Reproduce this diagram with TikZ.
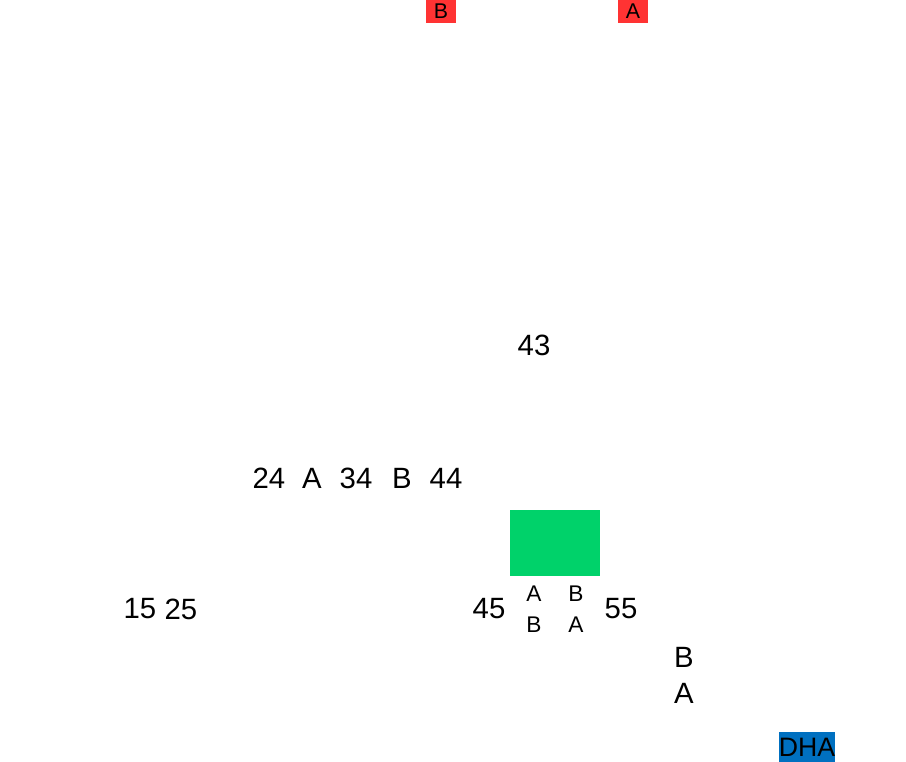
\documentclass[tikz,border=0pt]{standalone}
\usepackage{fontspec}
\setmainfont{Liberation Sans}
\usepackage{tikz}
\usetikzlibrary{positioning}
\definecolor{tagred}{RGB}{255,51,51}
\definecolor{tagblue}{RGB}{0,112,192}
\definecolor{padgreen}{RGB}{0,210,106}
\tikzset{
  lbl/.style={inner sep=0pt, font=\fontsize{22}{24}\selectfont},
  sm/.style={inner sep=0pt, font=\fontsize{17}{19}\selectfont},
  tag/.style={inner sep=0pt, minimum width=30*0.75pt, minimum height=23*0.75pt, font=\fontsize{16}{18}\selectfont}
}
\begin{document}
\begin{tikzpicture}[x=0.75pt, y=-0.75pt]
\useasboundingbox (0,0) rectangle (906,762);

% --- top tags ---
\node[tag, fill=tagred] (tagB) at (441,11.5) {B};
\node[tag, fill=tagred] (tagA) at (633,11.5) {A};

% --- upper labels ---
\node[lbl] (n43) at (534,345) {43};
\node[lbl] (n24) at (269,478) {24};
\node[lbl] (rA) at (312,478) {A};
\node[lbl] (n34) at (356,478) {34};
\node[lbl] (rB) at (402,478) {B};
\node[lbl] (n44) at (446,478) {44};

% --- green block ---
\fill[padgreen] (510,510) rectangle (600,576);

% --- lower row ---
\node[lbl] (n15) at (140,609) {15};
\node[lbl] (n25) at (181,609) {25};
\node[lbl] (n45) at (489,609) {45};
\node[sm] (lA1) at (534,594) {A};
\node[sm] (lB1) at (534,625) {B};
\node[sm] (lB2) at (576,594) {B};
\node[sm] (lA2) at (576,625) {A};
\node[lbl] (n55) at (621,609) {55};

% --- right side ---
\node[lbl] (sB) at (684,657) {B};
\node[lbl] (sA) at (684,693) {A};

% --- bottom tag ---
\node[tag, fill=tagblue, minimum width=54*0.75pt, minimum height=30*0.75pt, font=\fontsize{20}{22}\selectfont] (dha) at (807,747) {DHA};

\end{tikzpicture}
\end{document}
